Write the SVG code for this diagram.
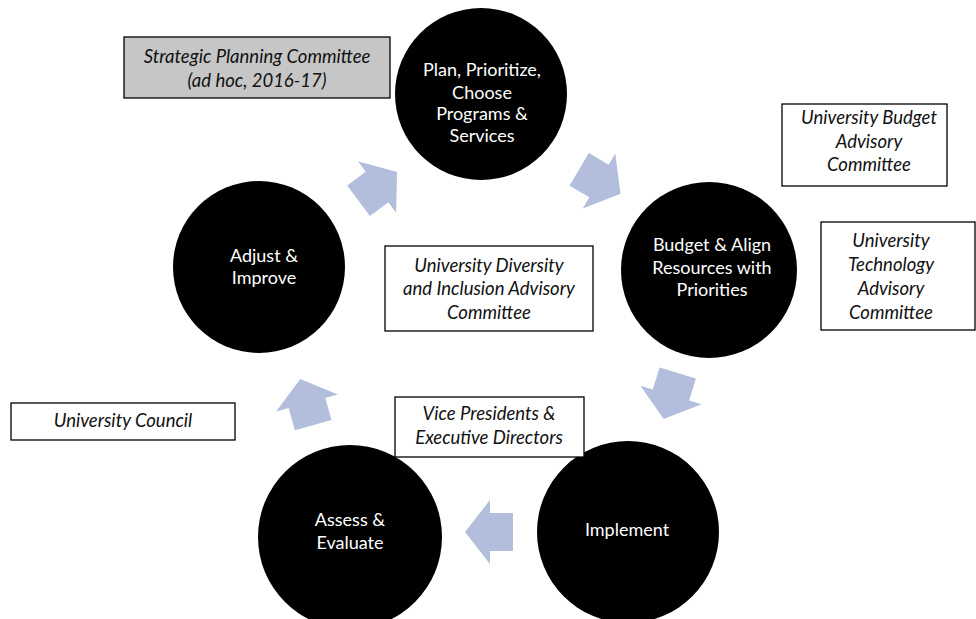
<svg xmlns="http://www.w3.org/2000/svg" width="976" height="619" viewBox="0 0 976 619">
  <style>
    .stage { fill: #000; }
    .stage-label { fill: #fff; font-family: Lato, "Open Sans", "Liberation Sans", sans-serif; font-size: 18px; text-anchor: middle; }
    .box { fill: #fff; stroke: #000; stroke-width: 1.3; }
    .box-grey { fill: #c6c6c6; stroke: #000; stroke-width: 1.3; }
    .box-label { fill: #111; font-family: Lato, "Open Sans", "Liberation Sans", sans-serif; font-style: italic; font-size: 18.5px; text-anchor: middle; }
    .flow { fill: #b3bedd; }
  </style>
  <defs>
    <!-- block arrow pointing along +x, centred on its own origin -->
    <polygon id="blockArrow" points="-23,-19 0,-19 0,-32 25,0 0,32 0,19 -23,19"/>
  </defs>
  <rect width="976" height="619" fill="#fff"/>

  <!-- cycle arrows between stages -->
  <g id="connectors" class="flow">
    <use href="#blockArrow" transform="translate(377,187) rotate(-36.6)"/>
    <use href="#blockArrow" transform="translate(599,181) rotate(30.5)"/>
    <use href="#blockArrow" transform="translate(671,395) rotate(107)"/>
    <use href="#blockArrow" transform="translate(490,532) rotate(180)"/>
    <use href="#blockArrow" transform="translate(307,403) rotate(-105.6)"/>
  </g>

  <g id="stage-plan">
    <circle class="stage" cx="481" cy="94" r="86"/>
    <text class="stage-label"><tspan x="482" y="76">Plan, Prioritize,</tspan><tspan x="482" y="99">Choose</tspan><tspan x="482" y="120">Programs &amp;</tspan><tspan x="482" y="142">Services</tspan></text>
  </g>
  <g id="stage-budget">
    <circle class="stage" cx="709" cy="270" r="88"/>
    <text class="stage-label"><tspan x="712" y="251">Budget &amp; Align</tspan><tspan x="712" y="274">Resources with</tspan><tspan x="712" y="296">Priorities</tspan></text>
  </g>
  <g id="stage-implement">
    <circle class="stage" cx="628" cy="532" r="91"/>
    <text class="stage-label" x="627" y="536">Implement</text>
  </g>
  <g id="stage-assess">
    <circle class="stage" cx="350" cy="537" r="92"/>
    <text class="stage-label"><tspan x="350" y="526">Assess &amp;</tspan><tspan x="350" y="549">Evaluate</tspan></text>
  </g>
  <g id="stage-adjust">
    <circle class="stage" cx="259" cy="267" r="86"/>
    <text class="stage-label"><tspan x="264" y="262">Adjust &amp;</tspan><tspan x="264" y="284">Improve</tspan></text>
  </g>

  <g id="committee-strategic">
    <rect class="box-grey" x="124" y="37" width="266" height="61"/>
    <text class="box-label"><tspan x="257" y="63">Strategic Planning Committee</tspan><tspan x="257" y="87">(ad hoc, 2016-17)</tspan></text>
  </g>
  <g id="committee-budget">
    <rect class="box" x="782" y="104" width="165" height="82"/>
    <text class="box-label"><tspan x="869" y="124">University Budget</tspan><tspan x="869" y="148">Advisory</tspan><tspan x="869" y="171">Committee</tspan></text>
  </g>
  <g id="committee-technology">
    <rect class="box" x="821" y="222" width="154" height="108"/>
    <text class="box-label"><tspan x="891" y="247">University</tspan><tspan x="891" y="271">Technology</tspan><tspan x="891" y="295">Advisory</tspan><tspan x="891" y="319">Committee</tspan></text>
  </g>
  <g id="committee-diversity">
    <rect class="box" x="385" y="246" width="208" height="85"/>
    <text class="box-label"><tspan x="489" y="272">University Diversity</tspan><tspan x="489" y="295">and Inclusion Advisory</tspan><tspan x="489" y="319">Committee</tspan></text>
  </g>
  <g id="committee-council">
    <rect class="box" x="11" y="403" width="224" height="37"/>
    <text class="box-label" x="123" y="427">University Council</text>
  </g>
  <g id="committee-vps">
    <rect class="box" x="395" y="397" width="189" height="60"/>
    <text class="box-label"><tspan x="489" y="420">Vice Presidents &amp;</tspan><tspan x="489" y="444">Executive Directors</tspan></text>
  </g>
</svg>
